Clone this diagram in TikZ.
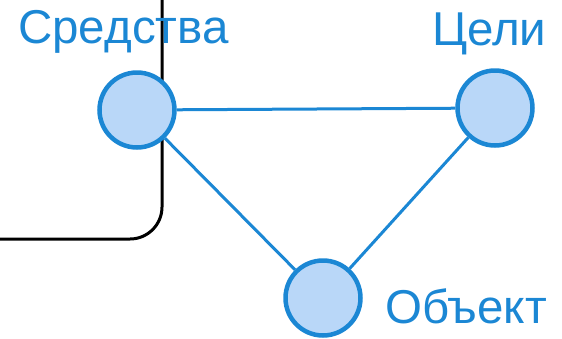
\documentclass[tikz,border=0pt]{standalone}
\usepackage{fontspec}
\setmainfont{Liberation Sans}
\definecolor{bstroke}{HTML}{1B87D4}
\definecolor{bfill}{HTML}{B9D7F8}
\tikzset{
  vert/.style={circle, draw=bstroke, fill=bfill, line width=4.5pt, minimum size=75pt, inner sep=0pt},
  edge/.style={draw=bstroke, line width=3pt},
  lbl/.style={text=bstroke, font=\fontsize{47.5}{52}\selectfont, inner sep=0pt, anchor=base west},
  frame/.style={draw=black, line width=3pt, rounded corners=32pt}
}
\begin{document}
\begin{tikzpicture}[x=1pt,y=-1pt]
\useasboundingbox (0,0) rectangle (562,338);
\coordinate (ftop) at (162,-5);
\coordinate (fleft) at (-5,239);
\draw[frame] (ftop) -- (162,239) -- (fleft);
\node[vert] (s) at (137,110) {};
\node[vert] (c) at (495,108) {};
\node[vert] (o) at (323,298) {};
\draw[edge] (s) -- (c);
\draw[edge] (s) -- (o);
\draw[edge] (c) -- (o);
\node[lbl] (ls) at (18,43) {Средства};
\node[lbl] (lc) at (432,45) {Цели};
\node[lbl] (lo) at (385,323) {Объект};
\end{tikzpicture}
\end{document}
